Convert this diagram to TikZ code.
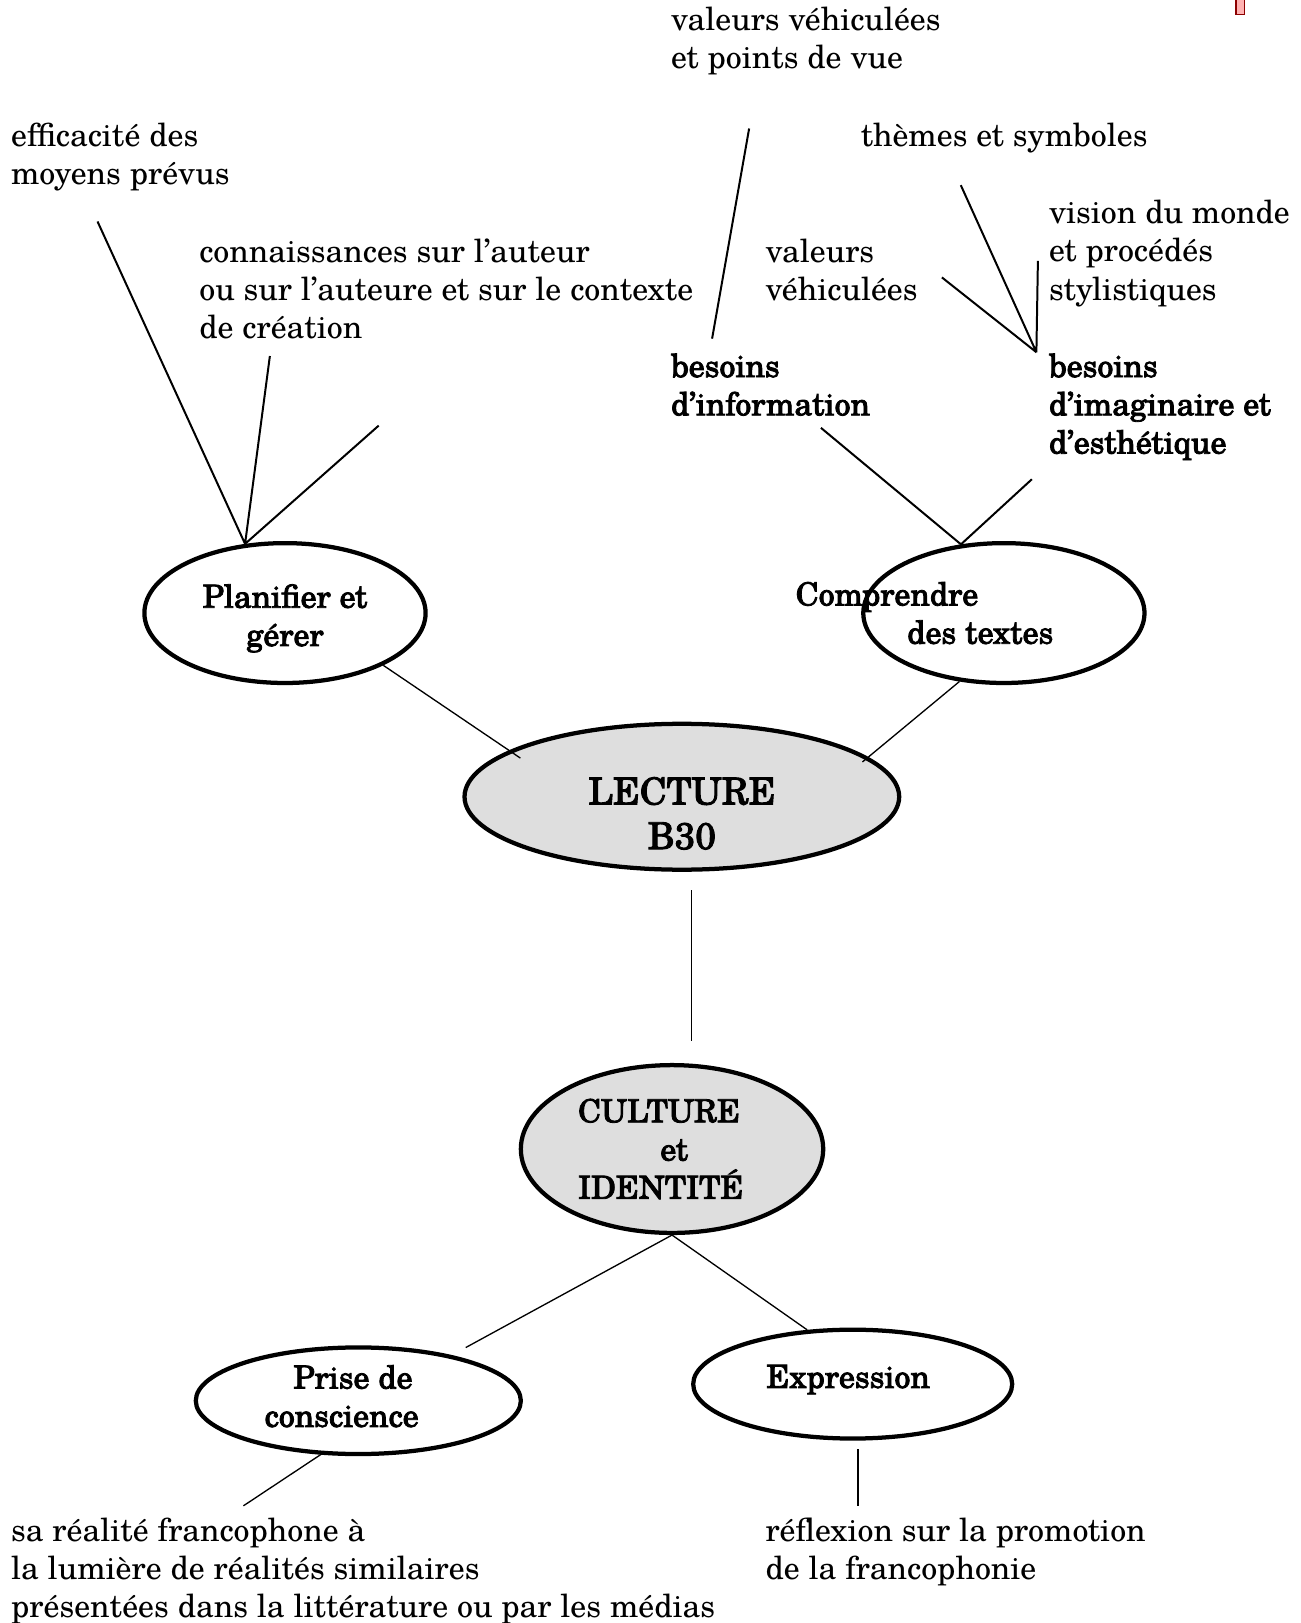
\documentclass[tikz,border=0pt]{standalone}
\usepackage{fontspec}
\setmainfont{TeX Gyre Schola}
\newfontfamily\heavy{TeX Gyre Schola}[FakeBold=2.5]
\usetikzlibrary{shapes.geometric}
\begin{document}
\begin{tikzpicture}[
    bubble/.style={ellipse, draw, line width=1.6pt, inner sep=0mm},
    core/.style={fill=black!13},
    txt/.style={inner sep=0mm, align=left, anchor=north west, font=\fontsize{12}{14.4}\selectfont},
    hv/.style={inner sep=0mm, align=center, font=\fontsize{12}{14.4}\selectfont\heavy},
    spoke/.style={line width=0.75pt},
    link/.style={line width=0.5pt}]
  \useasboundingbox (0,0) rectangle (17.21,21.47);
  \draw[draw=red!55!black, fill=red!30, line width=0.5pt] (16.35,21.49) rectangle (16.46,21.28);

  % ellipses
  \node[bubble, minimum width=3.72cm, minimum height=1.85cm] at (3.77,13.36) (plan) {};
  \node[bubble, minimum width=3.72cm, minimum height=1.85cm] at (13.28,13.36) (comp) {};
  \node[bubble, core, minimum width=5.75cm, minimum height=1.93cm] at (9.02,10.93) (lect) {};
  \node[bubble, core, minimum width=4.00cm, minimum height=2.22cm] at (8.89,6.27) (cult) {};
  \node[bubble, minimum width=4.30cm, minimum height=1.41cm] at (4.74,2.94) (prise) {};
  \node[bubble, minimum width=4.22cm, minimum height=1.44cm] at (11.28,3.16) (expr) {};

  \node[hv, yshift=-0.07cm] at (plan) (plantxt) {Planifier et\\gérer};
  \node[hv, align=left, xshift=-1.05cm] at (comp) (comptxt) {Comprendre\\\hspace*{42pt}des textes};
  \node[inner sep=0mm, align=center, font=\fontsize{14}{16.8}\selectfont\heavy, yshift=-0.22cm] at (lect) (lecttxt) {LECTURE\\B30};
  \node[hv, align=left, xshift=-0.15cm] at (cult) (culttxt) {CULTURE\\\hspace*{31pt}et\\IDENTITÉ};
  \node[hv, xshift=-0.22cm, yshift=0.06cm] at (prise) (prisetxt) {\hspace*{8.5pt}Prise de\\conscience};
  \node[hv, xshift=-0.06cm, yshift=0.06cm] at (expr) (exprtxt) {Expression};

  % labels
  \node[txt] at (8.87,21.39) (val1) {valeurs véhiculées\\et points de vue};
  \node[txt] at (0.14,19.85) (eff) {efficacité des\\moyens prévus};
  \node[txt] at (11.38,19.85) (theme) {thèmes et symboles};
  \node[txt] at (13.87,18.83) (vision) {vision du monde\\et procédés\\stylistiques};
  \node[txt] at (2.63,18.32) (conn) {connaissances sur l’auteur\\ou sur l’auteure et sur le contexte\\de création};
  \node[txt] at (10.12,18.32) (val2) {valeurs\\véhiculées};
  \node[txt, font=\fontsize{12}{14.4}\selectfont\heavy] at (8.87,16.80) (binf) {besoins\\d’information};
  \node[txt, font=\fontsize{12}{14.4}\selectfont\heavy] at (13.87,16.80) (bimag) {besoins\\d’imaginaire et\\d’esthétique};
  \node[txt] at (0.14,1.40) (sareal) {sa réalité francophone à\\la lumière de réalités similaires\\présentées dans la littérature ou par les médias};
  \node[txt] at (10.12,1.40) (refl) {réflexion sur la promotion\\de la francophonie};

  % line ends
  \coordinate (effend) at (1.29,18.54);
  \coordinate (connend) at (3.57,16.76);
  \coordinate (blank) at (5.01,15.84);
  \coordinate (valfoot) at (9.91,19.77);
  \coordinate (infhead) at (9.42,16.99);
  \coordinate (inffoot) at (10.86,15.81);
  \coordinate (imagfoot) at (13.65,15.13);
  \coordinate (imaghub) at (13.71,16.81);
  \coordinate (themefoot) at (12.71,19.02);
  \coordinate (val2foot) at (12.46,17.80);
  \coordinate (visionfoot) at (13.73,18.02);
  \coordinate (lectfoot) at (9.15,9.69);
  \coordinate (culthead) at (9.15,7.70);
  \coordinate (prisefoot) at (3.22,1.55);
  \coordinate (exprhead) at (11.35,2.30);
  \coordinate (exprfoot) at (11.35,1.55);

  \draw[spoke]
  (effend)--(plan.120) (connend)--(plan.120) (blank)--(plan.120)
  (valfoot)--(infhead) (inffoot)--(comp.122) (imagfoot)--(comp.122)
  (themefoot)--(imaghub) (val2foot)--(imaghub) (visionfoot)--(imaghub);
  \draw[link, shorten >=-1.8mm] (plan.-28)--(lect.165);
  \draw[link, shorten >=-1mm] (comp.237)--(lect.12);
  \draw[link] (lectfoot)--(culthead);
  \draw[link, shorten >=2.1mm] (cult.south)--(prise.26);
  \draw[link] (cult.south)--(expr.130);
  \draw[link, shorten <=-0.8mm] (prise.235)--(prisefoot);
  \draw[link] (exprhead)--(exprfoot);
\end{tikzpicture}
\end{document}
